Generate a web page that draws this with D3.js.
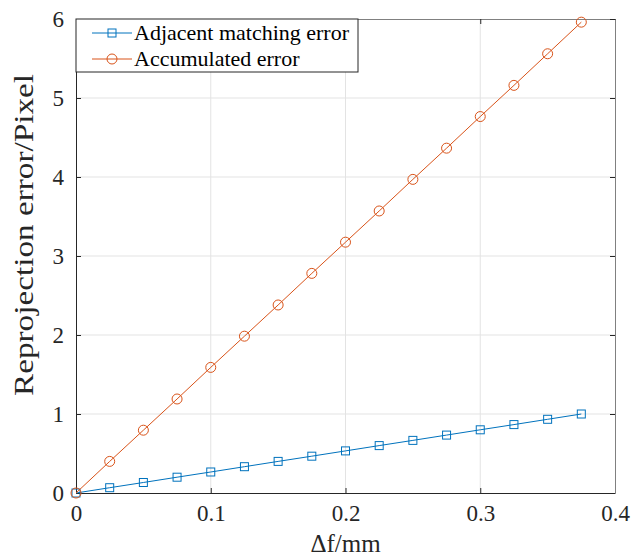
<!DOCTYPE html>
<html><head><meta charset="utf-8">
<script src="https://cdn.jsdelivr.net/npm/d3@7"></script>
<style>body{margin:0;background:#fff}svg{display:block}</style>
</head><body>
<script>
const xVals = [0,0.025,0.05,0.075,0.1,0.125,0.15,0.175,0.2,0.225,0.25,0.275,0.3,0.325,0.35,0.375];
const adjacent = [0,0.067,0.133,0.2,0.266,0.333,0.4,0.466,0.533,0.6,0.666,0.733,0.8,0.866,0.933,1.0];
const accumulated = [0,0.4,0.795,1.19,1.59,1.985,2.38,2.78,3.175,3.57,3.97,4.365,4.765,5.16,5.56,5.96];
const xTicks = [0,0.1,0.2,0.3,0.4];
const yTicks = [0,1,2,3,4,5,6];
const seriesNames = ["Adjacent matching error","Accumulated error"];
const colors = ["#0072BD","#D95319"];

const FONT = "'Liberation Serif','Times New Roman',Times,'Tinos','DejaVu Serif',serif";
const W=632,H=559;
const m={l:76,r:17,t:19,b:66};
const svg=d3.select("body").append("svg").attr("width",W).attr("height",H);
const x=d3.scaleLinear().domain([0,0.4]).range([m.l,W-m.r]);
const y=d3.scaleLinear().domain([0,6]).range([H-m.b,m.t]);
const axCol="#262626";

// grid
svg.append("g").selectAll("line").data(xTicks.slice(1,-1)).join("line")
  .attr("x1",d=>x(d)).attr("x2",d=>x(d)).attr("y1",y(0)).attr("y2",y(6))
  .attr("stroke","#e3e3e3").attr("stroke-width",1);
svg.append("g").selectAll("line").data(yTicks.slice(1,-1)).join("line")
  .attr("y1",d=>y(d)).attr("y2",d=>y(d)).attr("x1",x(0)).attr("x2",x(0.4))
  .attr("stroke","#e3e3e3").attr("stroke-width",1);

// axes
const tl=5;
const xa=svg.append("g").attr("transform",`translate(0,${y(0)})`)
  .call(d3.axisBottom(x).tickValues(xTicks).tickFormat(d=>d===0?"0":d3.format(".1f")(d)).tickSizeInner(-tl).tickSizeOuter(0).tickPadding(12));
const ya=svg.append("g").attr("transform",`translate(${x(0)},0)`)
  .call(d3.axisLeft(y).tickValues(yTicks).tickFormat(d3.format("d")).tickSizeInner(-tl).tickSizeOuter(0).tickPadding(12));
const xt=svg.append("g").attr("transform",`translate(0,${y(6)})`)
  .call(d3.axisTop(x).tickValues(xTicks).tickFormat("").tickSizeInner(-tl).tickSizeOuter(0));
const yr=svg.append("g").attr("transform",`translate(${x(0.4)},0)`)
  .call(d3.axisRight(y).tickValues(yTicks).tickFormat("").tickSizeInner(-tl).tickSizeOuter(0));
[xa,ya,xt,yr].forEach(g=>{
  g.attr("font-family",null).attr("font-size",null);
  g.select(".domain").attr("stroke",axCol).attr("stroke-width",1);
  g.selectAll(".tick line").attr("stroke",axCol);
  g.selectAll("text").attr("fill","#262626").attr("font-size","23px").attr("font-family",FONT);
});
xt.select(".domain").attr("stroke","#808080");
yr.select(".domain").attr("stroke","#808080");

// lines
const data=[adjacent,accumulated];
data.forEach((vals,i)=>{
  const pts=xVals.map((v,j)=>[v,vals[j]]);
  svg.append("path").datum(pts)
    .attr("d",d3.line().x(d=>x(d[0])).y(d=>y(d[1])))
    .attr("fill","none").attr("stroke",colors[i]).attr("stroke-width",1);
  if(i===0){
    svg.append("g").selectAll("rect").data(pts).join("rect")
      .attr("x",d=>x(d[0])-4).attr("y",d=>y(d[1])-4).attr("width",8).attr("height",8)
      .attr("fill","none").attr("stroke",colors[i]).attr("stroke-width",1);
  } else {
    svg.append("g").selectAll("circle").data(pts).join("circle")
      .attr("cx",d=>x(d[0])).attr("cy",d=>y(d[1])).attr("r",5)
      .attr("fill","none").attr("stroke",colors[i]).attr("stroke-width",1);
  }
});

// legend
const lg=svg.append("g");
lg.append("rect").attr("x",x(0)).attr("y",y(6)).attr("width",282).attr("height",53)
  .attr("fill","#fff").attr("stroke",axCol).attr("stroke-width",1);
seriesNames.forEach((n,i)=>{
  const yy=y(6)+14+i*26;
  lg.append("line").attr("x1",x(0)+16).attr("x2",x(0)+56).attr("y1",yy).attr("y2",yy).attr("stroke",colors[i]);
  if(i===0) lg.append("rect").attr("x",x(0)+32).attr("y",yy-4).attr("width",8).attr("height",8).attr("fill","none").attr("stroke",colors[i]);
  else lg.append("circle").attr("cx",x(0)+36).attr("cy",yy).attr("r",5).attr("fill","none").attr("stroke",colors[i]);
  lg.append("text").attr("x",x(0)+58).attr("y",yy+7).text(n).attr("font-size","22px").attr("font-family",FONT).attr("fill","#000");
});

// axis labels
svg.append("text").attr("x",(x(0)+x(0.4))/2).attr("y",552).attr("text-anchor","middle")
  .attr("font-size","25px").attr("font-family",FONT).attr("fill","#262626").text("Δf/mm");
svg.append("text").attr("transform",`translate(33,235) rotate(-90)`).attr("text-anchor","middle")
  .attr("font-size","28px").attr("font-family",FONT).attr("fill","#262626")
  .attr("textLength",322).attr("lengthAdjust","spacingAndGlyphs").text("Reprojection error/Pixel");
</script>
</body></html>
